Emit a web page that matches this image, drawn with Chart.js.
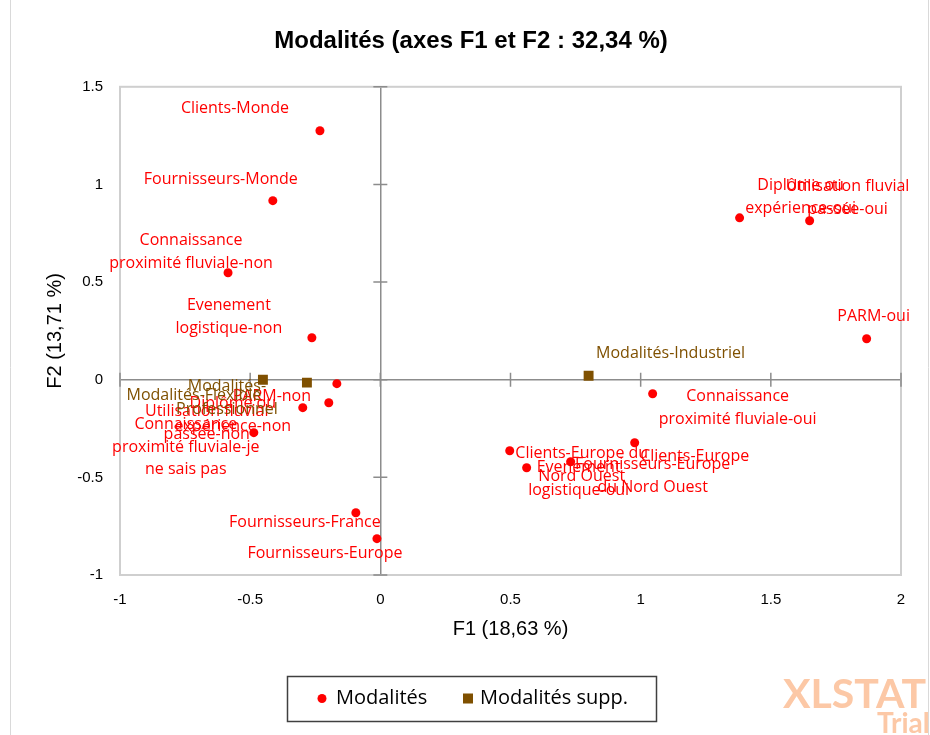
<!DOCTYPE html>
<html>
<head>
<meta charset="utf-8">
<script src="https://cdn.jsdelivr.net/npm/chart.js@4.4.1/dist/chart.umd.min.js"></script>
<style>
  body { margin: 0; background: #fff; }
  canvas { display: block; }
</style>
</head>
<body>
<canvas id="biplot" width="930" height="735"></canvas>
<script>
// active categories (Modalités)
const modX = [-0.232, -0.413, -0.585, -0.263, -0.167, -0.198, -0.298, -0.486, -0.094, -0.013,
              1.380, 1.649, 1.868, 1.046, 0.977, 0.497, 0.562, 0.731];
const modY = [1.275, 0.917, 0.548, 0.215, -0.020, -0.118, -0.143, -0.271, -0.681, -0.814,
              0.829, 0.814, 0.210, -0.072, -0.323, -0.364, -0.451, -0.420];
const modLabels = [
  ["Clients-Monde"],
  ["Fournisseurs-Monde"],
  ["Connaissance", "proximité fluviale-non"],
  ["Evenement", "logistique-non"],
  ["PARM-non"],
  ["Diplôme ou", "expérience-non"],
  ["Utilisation fluvial", "passée-non"],
  ["Connaissance", "proximité fluviale-je", "ne sais pas"],
  ["Fournisseurs-France"],
  ["Fournisseurs-Europe"],
  ["Diplôme ou", "expérience-oui"],
  ["Utilisation fluvial", "passée-oui"],
  ["PARM-oui"],
  ["Connaissance", "proximité fluviale-oui"],
  ["Clients-Europe"],
  ["Clients-Europe du", "Nord Ouest"],
  ["Evenement", "logistique-oui"],
  ["Fournisseurs-Europe", "du Nord Ouest"]
];

// supplementary categories
const suppX = [-0.451, -0.282, 0.800];
const suppY = [0.000, -0.015, 0.020];
const suppLabels = [
  ["Modalités-Flexible"],
  ["Modalités-", "Professionnel"],
  ["Modalités-Industriel"]
];

const xTicks = [-1, -0.5, 0, 0.5, 1, 1.5, 2];
const yTicks = [-1, -0.5, 0, 0.5, 1, 1.5];

// label placement: offset in px from the point to the centre of the first line
const modLabelPos = [[-85, -22], [-52, -21], [-37, -32], [-83, -32], [-65, 13], [-96, 1], [-96, 4],
                     [-68, -8], [-51, 10], [-52, 15], [61, -32], [38, -34], [7, -22], [85, 3],
                     [60, 14], [72, 3], [52, 0], [82, 3]];
const suppLabelPos = [[-69, 16], [-80, 4], [82, -22]];

const RED = '#ff0000';
const BROWN = '#7f5000';
const LABEL_FONT = '16px "Open Sans", "Noto Sans", sans-serif';

function toPoints(xs, ys) {
  return xs.map((x, i) => ({ x: x, y: ys[i] }));
}

// frame of the plot area + little ticks across the zero lines
const frame = {
  id: 'frame',
  beforeDatasetsDraw(chart) {
    const { ctx, chartArea: a, scales } = chart;
    ctx.save();
    ctx.strokeStyle = '#cfcfcf';
    ctx.lineWidth = 2;
    ctx.strokeRect(a.left, a.top, a.right - a.left, a.bottom - a.top);
    const x0 = scales.x.getPixelForValue(0);
    const y0 = scales.y.getPixelForValue(0);
    ctx.strokeStyle = '#8c8c8c';
    ctx.lineWidth = 1.5;
    ctx.beginPath();
    yTicks.forEach(v => {
      const y = scales.y.getPixelForValue(v);
      ctx.moveTo(x0 - 7, y); ctx.lineTo(x0 + 7, y);
    });
    xTicks.forEach(v => {
      const x = scales.x.getPixelForValue(v);
      ctx.moveTo(x, y0 - 7); ctx.lineTo(x, y0 + 7);
    });
    ctx.stroke();
    ctx.restore();
  }
};

const pointLabels = {
  id: 'pointLabels',
  afterDatasetsDraw(chart) {
    const ctx = chart.ctx;
    ctx.save();
    ctx.font = LABEL_FONT;
    ctx.textAlign = 'center';
    ctx.textBaseline = 'middle';
    chart.data.datasets.forEach((ds, di) => {
      const meta = chart.getDatasetMeta(di);
      ctx.fillStyle = ds.textColor;
      meta.data.forEach((pt, i) => {
        const off = ds.textPos[i];
        ds.pointText[i].forEach((line, k) => {
          ctx.fillText(line, pt.x + off[0], pt.y + off[1] + k * 22.5);
        });
      });
    });
    ctx.restore();
  }
};

// boxed legend + watermark
const extras = {
  id: 'extras',
  afterDraw(chart) {
    const ctx = chart.ctx;
    ctx.save();
    ctx.strokeStyle = '#d9d9d9';
    ctx.lineWidth = 1;
    ctx.beginPath();
    ctx.moveTo(10.5, 0); ctx.lineTo(10.5, 735);
    ctx.moveTo(928.5, 0); ctx.lineTo(928.5, 735);
    ctx.stroke();

    ctx.strokeStyle = '#404040';
    ctx.lineWidth = 1.5;
    ctx.strokeRect(287.5, 676.5, 369, 45);
    const ds = chart.data.datasets;
    ctx.fillStyle = ds[0].backgroundColor;
    ctx.beginPath();
    ctx.arc(322, 698.5, 4.5, 0, Math.PI * 2);
    ctx.fill();
    ctx.fillStyle = ds[1].backgroundColor;
    ctx.fillRect(463, 693.5, 10, 10);
    ctx.fillStyle = '#000';
    ctx.font = '20px "Open Sans", "Noto Sans", sans-serif';
    ctx.textBaseline = 'middle';
    ctx.textAlign = 'left';
    ctx.fillText(ds[0].label, 336, 698);
    ctx.fillText(ds[1].label, 480, 698);

    ctx.fillStyle = '#fcc8a6';
    ctx.font = 'bold 41px Lato, "Open Sans", sans-serif';
    ctx.textBaseline = 'alphabetic';
    ctx.fillText('XLSTAT', 783, 708);
    ctx.font = 'bold 28px Lato, "Open Sans", sans-serif';
    ctx.fillText('Trial', 877, 733);
    ctx.restore();
  }
};

const tickFont = { family: '"Liberation Sans", Arial, sans-serif', size: 15 };
const titleFont = { family: '"Liberation Sans", Arial, sans-serif', size: 20 };
const zeroGrid = {
  drawTicks: false,
  lineWidth: 1.5,
  color: c => (c.tick && c.tick.value === 0) ? '#8c8c8c' : 'rgba(0,0,0,0)'
};
const plainTick = v => String(v);

new Chart('biplot', {
  type: 'scatter',
  data: {
    datasets: [{
      label: 'Modalités',
      data: toPoints(modX, modY),
      backgroundColor: RED,
      borderColor: RED,
      pointStyle: 'circle',
      pointRadius: 4.5,
      pointBorderWidth: 0,
      pointText: modLabels,
      textPos: modLabelPos,
      textColor: RED
    }, {
      label: 'Modalités supp.',
      data: toPoints(suppX, suppY),
      backgroundColor: BROWN,
      borderColor: BROWN,
      pointStyle: 'rect',
      pointRadius: 7,
      pointBorderWidth: 0,
      pointText: suppLabels,
      textPos: suppLabelPos,
      textColor: BROWN
    }]
  },
  options: {
    responsive: false,
    animation: false,
    layout: { padding: { left: 41, right: 29, top: 0, bottom: 94 } },
    plugins: {
      legend: { display: false },
      tooltip: { enabled: false },
      title: {
        display: true,
        text: 'Modalités (axes F1 et F2 : 32,34 %)',
        color: '#000',
        font: { family: '"Liberation Sans", Arial, sans-serif', size: 24, weight: 'bold' },
        padding: { top: 27, bottom: 31 }
      }
    },
    scales: {
      x: {
        type: 'linear',
        min: -1, max: 2,
        afterBuildTicks: s => { s.ticks = xTicks.map(v => ({ value: v })); },
        afterFit: s => { s.height = 66; },
        ticks: { color: '#000', font: tickFont, padding: 16, callback: plainTick },
        grid: zeroGrid,
        border: { display: false },
        title: { display: true, text: 'F1 (18,63 %)', color: '#000', font: titleFont, padding: 0 }
      },
      y: {
        type: 'linear',
        min: -1, max: 1.5,
        afterBuildTicks: s => { s.ticks = yTicks.map(v => ({ value: v })); },
        afterFit: s => { s.width = 79; },
        ticks: { color: '#000', font: tickFont, padding: 17, callback: plainTick },
        grid: zeroGrid,
        border: { display: false },
        title: { display: true, text: 'F2 (13,71 %)', color: '#000', font: titleFont, padding: { top: 2, bottom: 0 } }
      }
    }
  },
  plugins: [frame, pointLabels, extras]
});
</script>
</body>
</html>
